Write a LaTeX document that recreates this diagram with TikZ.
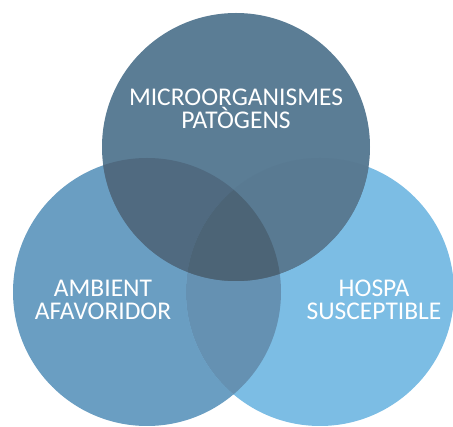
\documentclass[tikz,border=0pt]{standalone}
\usepackage{fontspec}
\setmainfont{Carlito}
\definecolor{cTop}{RGB}{91,125,149}
\definecolor{cLeft}{RGB}{106,158,194}
\definecolor{cRight}{RGB}{124,189,228}
\definecolor{cTopLeft}{RGB}{80,106,128}
\definecolor{cTopRight}{RGB}{89,122,146}
\definecolor{cLeftRight}{RGB}{101,145,178}
\definecolor{cAll}{RGB}{76,100,118}
\tikzset{
  label/.style={text=white, align=center, font=\fontsize{25.5}{23}\selectfont, inner sep=0pt},
}
\begin{document}
\begin{tikzpicture}[x=1pt,y=-1pt]
  \useasboundingbox (0,0) rectangle (453,427);
  % circle centres and common radius
  \def\R{134}
  \coordinate (T) at (236,147);
  \coordinate (L) at (147,292);
  \coordinate (Rt) at (320,292);
  % single-set regions
  \fill[cLeft]  (L)  circle (\R);
  \fill[cRight] (Rt) circle (\R);
  \fill[cTop]   (T)  circle (\R);
  % pairwise overlaps
  \begin{scope}
    \clip (L) circle (\R);
    \fill[cLeftRight] (Rt) circle (\R);
  \end{scope}
  \begin{scope}
    \clip (T) circle (\R);
    \fill[cTopLeft] (L) circle (\R);
  \end{scope}
  \begin{scope}
    \clip (T) circle (\R);
    \fill[cTopRight] (Rt) circle (\R);
  \end{scope}
  % triple overlap
  \begin{scope}
    \clip (T) circle (\R);
    \clip (L) circle (\R);
    \fill[cAll] (Rt) circle (\R);
  \end{scope}
  % labels
  \node[label] (micro) at (236,109) {MICROORGANISMES\\PATÒGENS};
  \node[label] (amb) at (103,300) {AMBIENT\\AFAVORIDOR};
  \node[label] (host) at (374,300) {HOSPA\\SUSCEPTIBLE};
\end{tikzpicture}
\end{document}
